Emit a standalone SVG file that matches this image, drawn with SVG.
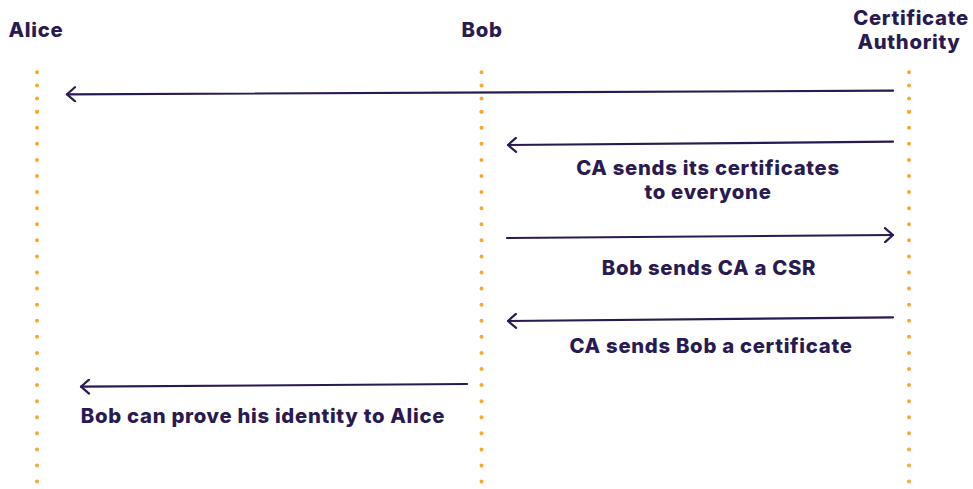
<svg xmlns="http://www.w3.org/2000/svg" width="973" height="489" viewBox="0 0 973 489">
<defs>
<style>
.t{font-family:Inter,"Noto Sans","Liberation Sans",sans-serif;font-weight:800;font-size:20.3px;fill:#2a1a52;text-anchor:middle;letter-spacing:0.7px}
.life{stroke:#fca82e;stroke-width:4;stroke-linecap:round;fill:none}
.msg{stroke:#2a1a52;stroke-width:2.2;fill:none;stroke-linecap:round}
</style>
<marker id="arr" viewBox="0 0 12 16" refX="10" refY="8" markerWidth="12" markerHeight="16" markerUnits="userSpaceOnUse" orient="auto">
<path d="M2,1 L10,8 L2,15" fill="none" stroke="#2a1a52" stroke-width="2.2" stroke-linecap="round" stroke-linejoin="round"/>
</marker>
</defs>
<rect width="973" height="489" fill="#ffffff"/>
<g id="alice">
<text class="t" x="36" y="37">Alice</text>
<path class="life" d="M37,72.3 V111.7" stroke-dasharray="0 13.13"/>
<path class="life" d="M37,111.7 V481.8" stroke-dasharray="0 16.08"/>
</g>
<g id="bob">
<text class="t" x="482" y="37">Bob</text>
<path class="life" d="M481.5,72.3 V111.7" stroke-dasharray="0 13.13"/>
<path class="life" d="M481.5,111.7 V481.8" stroke-dasharray="0 16.08"/>
</g>
<g id="ca">
<text class="t" x="911" y="25">Certificate</text>
<text class="t" x="909" y="49">Authority</text>
<path class="life" d="M909,72.3 V111.7" stroke-dasharray="0 13.13"/>
<path class="life" d="M909,111.7 V481.8" stroke-dasharray="0 16.08"/>
</g>
<g id="connectors">
<path class="msg" d="M893,90.7 Q480,92 67,94.3" marker-end="url(#arr)"/>
<path class="msg" d="M893,141.7 Q700,142.5 508,145" marker-end="url(#arr)"/>
<path class="msg" d="M507,238 Q700,236.5 893,235" marker-end="url(#arr)"/>
<path class="msg" d="M893,317.3 Q700,318.5 508,321" marker-end="url(#arr)"/>
<path class="msg" d="M467,384 Q270,385 81,386.7" marker-end="url(#arr)"/>
</g>
<g id="labels">
<text class="t" x="708" y="175">CA sends its certificates</text>
<text class="t" x="708" y="199">to everyone</text>
<text class="t" x="709" y="275">Bob sends CA a CSR</text>
<text class="t" x="711" y="353">CA sends Bob a certificate</text>
<text class="t" x="263" y="423">Bob can prove his identity to Alice</text>
</g>
</svg>
